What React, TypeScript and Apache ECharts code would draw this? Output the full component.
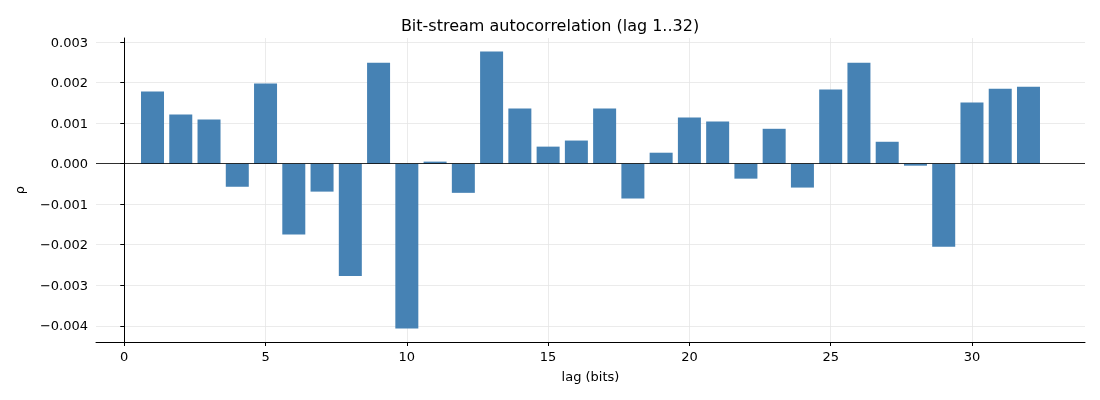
import React, { useEffect, useRef } from "react";
import * as echarts from "echarts";

const lags = Array.from({ length: 32 }, (_, i) => i + 1);
const rho = [
  1.78, 1.21, 1.09, -0.57, 1.98, -1.75, -0.69, -2.77, 2.49, -4.07, 0.05, -0.72,
  2.77, 1.36, 0.42, 0.57, 1.36, -0.86, 0.27, 1.14, 1.04, -0.37, 0.86, -0.59,
  1.83, 2.49, 0.54, -0.05, -2.05, 1.51, 1.85, 1.9,
].map((v) => v / 1000);
const xTicks = [0, 5, 10, 15, 20, 25, 30];
const yTicks = [-0.004, -0.003, -0.002, -0.001, 0, 0.001, 0.002, 0.003];

const font = "DejaVu Sans";

export default function App() {
  const ref = useRef<HTMLDivElement>(null);
  useEffect(() => {
    const chart = echarts.init(ref.current!, null, { renderer: "svg" });
    const grid = { show: true, lineStyle: { color: "#e6e6e6", width: 0.8 } };
    chart.setOption({
      animation: false,
      title: {
        text: "Bit-stream autocorrelation (lag 1..32)",
        left: "center",
        top: 12,
        textStyle: { fontFamily: font, fontSize: 16, fontWeight: "normal", color: "#000" },
      },
      grid: { left: 96, right: 15, top: 38, bottom: 58 },
      xAxis: {
        type: "value",
        min: -1,
        max: 34,
        name: "lag (bits)",
        nameLocation: "middle",
        nameGap: 28,
        nameTextStyle: { fontFamily: font, fontSize: 13, color: "#000" },
        axisLine: { onZero: false, lineStyle: { color: "#000" } },
        axisTick: { customValues: xTicks, lineStyle: { color: "#000" }, length: 4 },
        axisLabel: { customValues: xTicks, fontFamily: font, fontSize: 13, color: "#000" },
        splitLine: { ...grid },
      },
      yAxis: {
        type: "value",
        min: -0.0044,
        max: 0.0031,
        name: "ρ",
        nameLocation: "middle",
        nameGap: 70,
        nameTextStyle: { fontFamily: font, fontSize: 13, color: "#000" },
        axisLine: { show: true, lineStyle: { color: "#000" } },
        axisTick: { show: true, customValues: yTicks, lineStyle: { color: "#000" }, length: 4 },
        axisLabel: {
          customValues: yTicks,
          fontFamily: font,
          fontSize: 13,
          color: "#000",
          formatter: (v: number) => v.toFixed(3).replace("-", "−"),
        },
        splitLine: { ...grid },
      },
      series: [
        {
          type: "bar",
          data: lags.map((l, i) => [l, rho[i]]),
          barWidth: 23,
          itemStyle: { color: "#4682b4" },
          markLine: {
            symbol: "none",
            silent: true,
            label: { show: false },
            lineStyle: { color: "#000", width: 0.8, type: "solid" },
            data: [{ yAxis: 0 }],
          },
        },
      ],
    });
    return () => chart.dispose();
  }, []);
  return <div ref={ref} style={{ position: "fixed", left: 0, top: 0, width: 1100, height: 400 }} />;
}
